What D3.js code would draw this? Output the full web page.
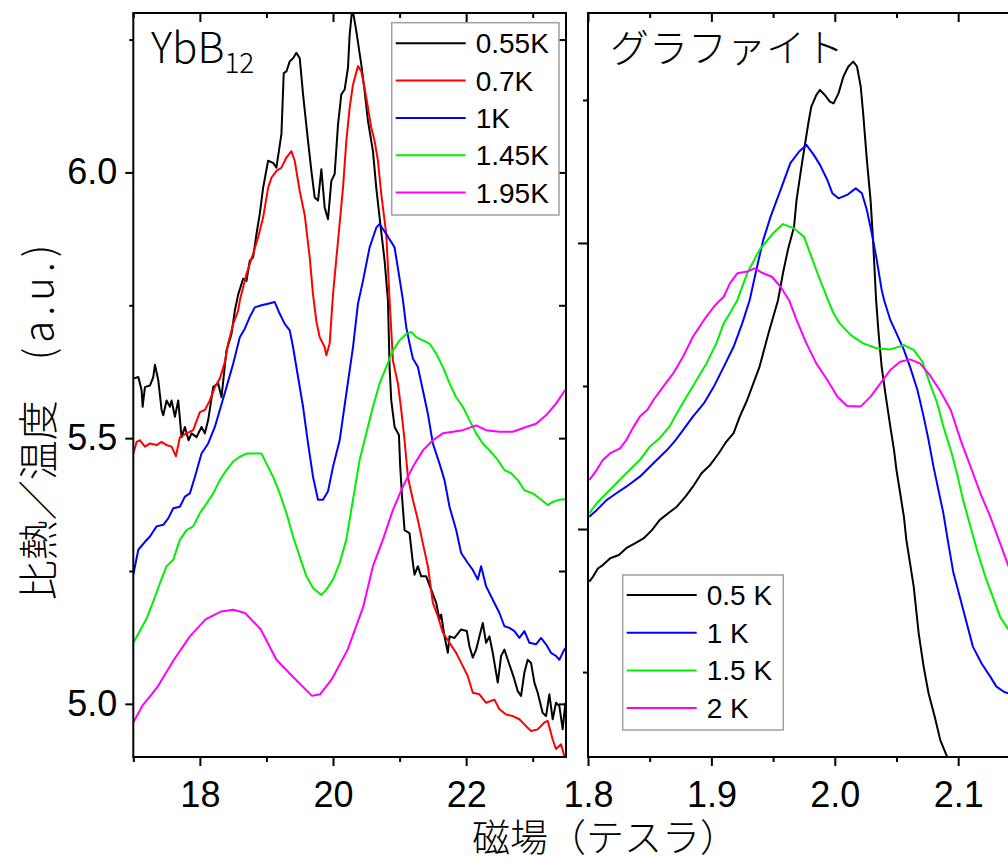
<!DOCTYPE html>
<html>
<head>
<meta charset="utf-8">
<script src="https://cdn.jsdelivr.net/npm/d3@7"></script>
<style>
  body { margin: 0; background: #fff; }
  svg text { font-family: "Liberation Sans", Arial, sans-serif; fill: #000; }
  svg text.jp { font-family: "Noto Sans CJK JP", sans-serif; font-weight: 300; }
</style>
</head>
<body>
<svg id="chart" width="1008" height="858"></svg>
<script>
"use strict";

// YbB12 panel, field (T) vs C/T (a.u.)
const yb055 = [[17.00,5.612],[17.075,5.615],[17.125,5.59],[17.14,5.559],[17.175,5.596],[17.25,5.599],[17.30,5.615],[17.325,5.638],[17.375,5.609],[17.425,5.553],[17.45,5.543],[17.50,5.571],[17.55,5.559],[17.575,5.571],[17.625,5.54],[17.675,5.571],[17.725,5.502],[17.775,5.521],[17.83,5.496],[17.875,5.509],[17.95,5.502],[18.025,5.521],[18.075,5.509],[18.125,5.534],[18.20,5.596],[18.275,5.603],[18.325,5.577],[18.40,5.665],[18.475,5.696],[18.525,5.74],[18.575,5.77],[18.65,5.80],[18.70,5.796],[18.75,5.834],[18.80,5.84],[18.85,5.884],[18.90,5.922],[18.95,5.971],[19.025,6.022],[19.10,6.018],[19.15,6.009],[19.225,6.072],[19.26,6.187],[19.30,6.19],[19.35,6.209],[19.40,6.215],[19.45,6.225],[19.50,6.215],[19.55,6.147],[19.625,6.059],[19.675,6.003],[19.725,5.953],[19.775,5.947],[19.825,6.006],[19.875,5.934],[19.925,5.912],[19.975,5.984],[20.025,5.997],[20.075,6.09],[20.125,6.147],[20.175,6.156],[20.225,6.197],[20.25,6.259],[20.29,6.31],[20.35,6.266],[20.425,6.203],[20.475,6.153],[20.525,6.097],[20.60,6.04],[20.65,5.971],[20.70,5.915],[20.775,5.834],[20.825,5.759],[20.85,5.634],[20.875,5.571],[20.925,5.521],[20.99,5.506],[21.01,5.446],[21.04,5.384],[21.075,5.327],[21.15,5.321],[21.20,5.265],[21.225,5.243],[21.275,5.259],[21.325,5.24],[21.40,5.24],[21.475,5.215],[21.55,5.19],[21.60,5.159],[21.625,5.168],[21.675,5.127],[21.725,5.096],[21.75,5.127],[21.825,5.124],[21.925,5.14],[22.01,5.137],[22.05,5.108],[22.10,5.087],[22.15,5.102],[22.20,5.127],[22.25,5.152],[22.30,5.115],[22.35,5.127],[22.40,5.096],[22.475,5.04],[22.525,5.09],[22.575,5.102],[22.625,5.083],[22.675,5.065],[22.725,5.046],[22.775,5.024],[22.825,5.015],[22.875,5.059],[22.925,5.083],[22.975,5.077],[23.025,5.04],[23.075,5.021],[23.15,4.983],[23.20,4.977],[23.25,5.018],[23.30,4.971],[23.35,5.002],[23.40,4.996],[23.45,4.952],[23.49,5.002]];
const yb07 = [[17.00,5.471],[17.05,5.493],[17.10,5.496],[17.175,5.484],[17.25,5.49],[17.35,5.487],[17.425,5.493],[17.50,5.487],[17.575,5.484],[17.64,5.466],[17.70,5.502],[17.80,5.509],[17.90,5.515],[18.00,5.549],[18.075,5.553],[18.15,5.571],[18.225,5.596],[18.30,5.612],[18.375,5.643],[18.425,5.678],[18.50,5.715],[18.575,5.74],[18.60,5.759],[18.70,5.809],[18.80,5.847],[18.875,5.878],[18.95,5.915],[19.025,5.971],[19.075,5.99],[19.15,6.003],[19.225,6.009],[19.30,6.028],[19.375,6.04],[19.425,6.022],[19.50,5.965],[19.575,5.92],[19.65,5.84],[19.70,5.77],[19.75,5.72],[19.80,5.69],[19.875,5.671],[19.90,5.656],[19.95,5.678],[20.00,5.771],[20.075,5.871],[20.15,5.971],[20.20,6.059],[20.25,6.122],[20.30,6.165],[20.375,6.20],[20.425,6.19],[20.475,6.159],[20.525,6.122],[20.575,6.084],[20.625,6.059],[20.675,6.022],[20.725,5.959],[20.80,5.884],[20.85,5.76],[20.90,5.646],[20.975,5.603],[21.025,5.553],[21.075,5.496],[21.125,5.427],[21.20,5.384],[21.275,5.346],[21.35,5.302],[21.425,5.259],[21.50,5.19],[21.575,5.165],[21.65,5.134],[21.75,5.115],[21.85,5.096],[21.95,5.071],[22.025,5.052],[22.10,5.021],[22.20,5.018],[22.30,5.002],[22.425,5.008],[22.50,4.99],[22.60,4.98],[22.70,4.977],[22.80,4.971],[22.90,4.958],[22.975,4.949],[23.075,4.952],[23.175,4.965],[23.225,4.968],[23.30,4.933],[23.35,4.915],[23.425,4.924],[23.475,4.902]];
const yb1 = [[17.0,5.243],[17.075,5.29],[17.175,5.305],[17.25,5.315],[17.35,5.334],[17.45,5.337],[17.525,5.349],[17.60,5.368],[17.70,5.371],[17.775,5.39],[17.85,5.396],[17.925,5.427],[18.025,5.471],[18.125,5.49],[18.225,5.521],[18.30,5.553],[18.40,5.596],[18.50,5.64],[18.60,5.69],[18.675,5.706],[18.75,5.728],[18.825,5.746],[18.925,5.75],[19.025,5.753],[19.125,5.756],[19.20,5.734],[19.275,5.715],[19.35,5.703],[19.40,5.671],[19.475,5.615],[19.55,5.559],[19.625,5.49],[19.70,5.427],[19.775,5.384],[19.85,5.384],[19.925,5.40],[20.0,5.446],[20.10,5.496],[20.20,5.584],[20.30,5.671],[20.375,5.753],[20.45,5.796],[20.55,5.859],[20.65,5.896],[20.70,5.903],[20.80,5.884],[20.925,5.859],[21.0,5.80],[21.05,5.76],[21.10,5.709],[21.15,5.678],[21.20,5.65],[21.275,5.634],[21.35,5.59],[21.425,5.546],[21.50,5.49],[21.60,5.452],[21.675,5.421],[21.75,5.371],[21.85,5.327],[21.925,5.284],[22.025,5.265],[22.10,5.252],[22.175,5.234],[22.225,5.259],[22.30,5.221],[22.40,5.196],[22.50,5.171],[22.575,5.146],[22.65,5.143],[22.725,5.137],[22.80,5.124],[22.875,5.137],[22.95,5.115],[23.05,5.112],[23.125,5.124],[23.20,5.112],[23.275,5.096],[23.35,5.09],[23.40,5.083],[23.45,5.096],[23.49,5.105]];
const yb145 = [[17.0,5.115],[17.195,5.159],[17.31,5.196],[17.40,5.227],[17.50,5.259],[17.60,5.271],[17.70,5.309],[17.80,5.327],[17.90,5.334],[18.0,5.359],[18.10,5.377],[18.20,5.396],[18.30,5.421],[18.40,5.44],[18.50,5.456],[18.60,5.465],[18.70,5.471],[18.80,5.471],[18.925,5.471],[19.0,5.452],[19.10,5.427],[19.20,5.396],[19.30,5.359],[19.40,5.315],[19.50,5.277],[19.60,5.24],[19.70,5.218],[19.825,5.205],[19.90,5.215],[20.0,5.234],[20.10,5.265],[20.20,5.309],[20.30,5.384],[20.40,5.459],[20.50,5.509],[20.60,5.559],[20.70,5.603],[20.80,5.634],[20.90,5.665],[21.0,5.684],[21.10,5.696],[21.175,5.70],[21.25,5.69],[21.35,5.684],[21.45,5.678],[21.55,5.659],[21.65,5.634],[21.75,5.603],[21.85,5.577],[21.95,5.559],[22.05,5.534],[22.15,5.509],[22.25,5.49],[22.35,5.477],[22.475,5.459],[22.575,5.44],[22.675,5.434],[22.775,5.421],[22.875,5.402],[23.0,5.396],[23.10,5.387],[23.225,5.374],[23.30,5.38],[23.40,5.384],[23.49,5.385]];
const yb195 = [[17.0,4.965],[17.135,4.996],[17.37,5.033],[17.61,5.083],[17.85,5.127],[18.085,5.159],[18.32,5.174],[18.50,5.177],[18.68,5.171],[18.915,5.14],[19.15,5.083],[19.39,5.052],[19.685,5.015],[19.805,5.018],[19.98,5.046],[20.22,5.102],[20.455,5.183],[20.60,5.259],[20.75,5.309],[20.90,5.365],[21.05,5.409],[21.20,5.446],[21.35,5.477],[21.50,5.496],[21.65,5.509],[21.80,5.512],[21.95,5.515],[22.15,5.524],[22.30,5.515],[22.50,5.512],[22.70,5.512],[22.90,5.521],[23.05,5.527],[23.20,5.543],[23.35,5.565],[23.49,5.591]];

// graphite panel, field (T) vs C/T (a.u., no scale shown)
const gr05 = [[1.801,0.816],[1.804,0.833],[1.808,0.862],[1.812,0.874],[1.818,0.898],[1.825,0.909],[1.831,0.933],[1.838,0.95],[1.845,0.967],[1.852,0.997],[1.858,1.031],[1.865,1.055],[1.872,1.078],[1.879,1.113],[1.885,1.148],[1.892,1.195],[1.899,1.224],[1.906,1.265],[1.912,1.305],[1.918,1.335],[1.923,1.393],[1.929,1.451],[1.934,1.509],[1.939,1.567],[1.946,1.68],[1.954,1.80],[1.958,1.894],[1.962,1.976],[1.967,2.057],[1.969,2.15],[1.973,2.267],[1.976,2.349],[1.979,2.43],[1.981,2.477],[1.985,2.517],[1.988,2.535],[1.992,2.517],[1.996,2.494],[1.999,2.488],[2.003,2.523],[2.007,2.582],[2.011,2.617],[2.015,2.634],[2.018,2.617],[2.021,2.547],[2.023,2.453],[2.026,2.29],[2.029,2.15],[2.031,2.01],[2.0335,1.80],[2.0355,1.684],[2.038,1.567],[2.041,1.474],[2.045,1.358],[2.048,1.276],[2.050,1.206],[2.053,1.125],[2.056,1.043],[2.058,0.962],[2.061,0.880],[2.064,0.798],[2.068,0.635],[2.072,0.519],[2.076,0.426],[2.081,0.344],[2.0855,0.262],[2.091,0.204]];
const gr1 = [[1.801,1.043],[1.807,1.066],[1.815,1.101],[1.823,1.125],[1.831,1.148],[1.842,1.183],[1.853,1.23],[1.864,1.276],[1.871,1.311],[1.877,1.346],[1.885,1.393],[1.894,1.44],[1.902,1.498],[1.910,1.567],[1.918,1.637],[1.925,1.719],[1.931,1.80],[1.937,1.917],[1.942,2.01],[1.948,2.092],[1.956,2.185],[1.964,2.279],[1.971,2.319],[1.977,2.343],[1.983,2.308],[1.988,2.273],[1.994,2.22],[1.998,2.174],[2.003,2.156],[2.010,2.168],[2.017,2.191],[2.022,2.174],[2.026,2.115],[2.030,2.034],[2.034,1.941],[2.038,1.836],[2.040,1.80],[2.045,1.731],[2.050,1.684],[2.056,1.626],[2.061,1.567],[2.067,1.486],[2.072,1.393],[2.076,1.311],[2.080,1.218],[2.084,1.136],[2.088,1.055],[2.092,0.95],[2.096,0.85],[2.102,0.752],[2.107,0.670],[2.112,0.588],[2.119,0.530],[2.126,0.484],[2.131,0.449],[2.137,0.431],[2.141,0.425]];
const gr15 = [[1.801,1.055],[1.807,1.09],[1.815,1.125],[1.823,1.16],[1.831,1.195],[1.842,1.241],[1.850,1.288],[1.858,1.317],[1.866,1.358],[1.872,1.405],[1.880,1.463],[1.888,1.521],[1.896,1.579],[1.904,1.649],[1.910,1.719],[1.915,1.754],[1.921,1.80],[1.929,1.894],[1.939,1.976],[1.950,2.034],[1.958,2.066],[1.967,2.051],[1.975,2.022],[1.980,1.964],[1.987,1.882],[1.994,1.806],[1.999,1.754],[2.004,1.719],[2.013,1.678],[2.023,1.649],[2.034,1.632],[2.045,1.628],[2.056,1.643],[2.064,1.626],[2.071,1.585],[2.077,1.509],[2.083,1.44],[2.088,1.358],[2.094,1.276],[2.099,1.195],[2.104,1.101],[2.110,1.008],[2.116,0.915],[2.122,0.833],[2.129,0.752],[2.134,0.693],[2.141,0.647]];
const gr2 = [[1.801,1.171],[1.807,1.206],[1.812,1.241],[1.818,1.265],[1.826,1.282],[1.831,1.311],[1.837,1.358],[1.842,1.393],[1.848,1.416],[1.853,1.451],[1.861,1.498],[1.869,1.544],[1.877,1.602],[1.885,1.672],[1.894,1.731],[1.902,1.777],[1.907,1.80],[1.910,1.812],[1.915,1.859],[1.921,1.894],[1.929,1.90],[1.935,1.911],[1.942,1.894],[1.949,1.882],[1.956,1.847],[1.963,1.80],[1.969,1.731],[1.977,1.649],[1.985,1.579],[1.994,1.521],[2.002,1.463],[2.010,1.43],[2.021,1.428],[2.029,1.463],[2.037,1.509],[2.045,1.556],[2.053,1.585],[2.061,1.593],[2.069,1.579],[2.077,1.538],[2.085,1.486],[2.094,1.416],[2.102,1.311],[2.110,1.218],[2.118,1.125],[2.126,1.043],[2.134,0.95],[2.141,0.868]];

const ybSeries = [yb055, yb07, yb1, yb145, yb195];
const ybLabels = ["0.55K", "0.7K", "1K", "1.45K", "1.95K"];
const ybColors = ["#000000", "#ff0000", "#0000ff", "#00f000", "#ff00ff"];
const grSeries = [gr05, gr1, gr15, gr2];
const grLabels = ["0.5 K", "1 K", "1.5 K", "2 K"];
const grColors = ["#000000", "#0000ff", "#00f000", "#ff00ff"];

const ybXTicks = [18, 20, 22];
const ybXMinor = [17, 19, 21, 23];
const ybYTicks = [5.0, 5.5, 6.0];
const ybYMinor = [5.25, 5.75, 6.25];
const grXTicks = [1.8, 1.9, 2.0, 2.1];
const grXMinor = [1.85, 1.95, 2.05];
const grYTicks = [1, 2];
const grYMinor = [0.5, 1.5, 2.5];

const svg = d3.select("#chart");
const plotTop = 13, plotBottom = 757;

const xL = d3.scaleLinear().domain([17, 23.5]).range([133.3, 566]);
const yL = d3.scaleLinear().domain([4.9, 6.3]).range([plotBottom, plotTop]);
const xR = d3.scaleLinear().domain([1.8, 2.142]).range([588, 1010]);
const yR = d3.scaleLinear().domain([0.203, 2.804]).range([plotBottom, plotTop]);

const defs = svg.append("defs");
defs.append("clipPath").attr("id", "clipL").append("rect")
  .attr("x", 133.3).attr("y", plotTop).attr("width", 566 - 133.3).attr("height", plotBottom - plotTop);
defs.append("clipPath").attr("id", "clipR").append("rect")
  .attr("x", 588).attr("y", plotTop).attr("width", 1010 - 588).attr("height", plotBottom - plotTop);

function styleAxis(g, fontSize) {
  g.select(".domain").remove();
  g.selectAll("line").attr("stroke", "#000").attr("stroke-width", 2);
  g.selectAll("text").style("font-size", fontSize + "px");
}

function drawPanel(x, y, opt) {
  const x0 = x.range()[0], x1 = x.range()[1];
  // bottom
  svg.append("g").attr("transform", `translate(0,${plotBottom})`)
    .call(d3.axisBottom(x).tickValues(opt.xTicks).tickSize(9).tickPadding(15).tickFormat(opt.xFmt))
    .call(styleAxis, 36);
  svg.append("g").attr("transform", `translate(0,${plotBottom})`)
    .call(d3.axisBottom(x).tickValues(opt.xMinor).tickSize(5).tickFormat(""))
    .call(styleAxis, 36);
  // top, inward
  svg.append("g").attr("transform", `translate(0,${plotTop})`)
    .call(d3.axisTop(x).tickValues(opt.xTicks).tickSize(-9).tickFormat(""))
    .call(styleAxis, 36);
  svg.append("g").attr("transform", `translate(0,${plotTop})`)
    .call(d3.axisTop(x).tickValues(opt.xMinor).tickSize(-5).tickFormat(""))
    .call(styleAxis, 36);
  // left
  svg.append("g").attr("transform", `translate(${x0},0)`)
    .call(d3.axisLeft(y).tickValues(opt.yTicks).tickSize(opt.yTick).tickPadding(8)
      .tickFormat(opt.yLabels ? d3.format(".1f") : ""))
    .call(styleAxis, 36);
  svg.append("g").attr("transform", `translate(${x0},0)`)
    .call(d3.axisLeft(y).tickValues(opt.yMinor).tickSize(opt.yTick / 2).tickFormat(""))
    .call(styleAxis, 36);
  // right, inward
  if (opt.rightTicks) {
    svg.append("g").attr("transform", `translate(${x1},0)`)
      .call(d3.axisRight(y).tickValues(opt.yTicks.concat(opt.yMinor)).tickSize(-7).tickFormat(""))
      .call(styleAxis, 36);
  }

  const line = d3.line().x((d) => x(d[0])).y((d) => y(d[1]));
  svg.append("g").attr("clip-path", `url(#${opt.clip})`)
    .selectAll("path")
    .data(opt.series)
    .enter()
    .append("path")
    .attr("d", line)
    .attr("fill", "none")
    .attr("stroke", (d, i) => opt.colors[i])
    .attr("stroke-width", 2)
    .attr("stroke-linejoin", "round");

  svg.append("rect")
    .attr("x", x0).attr("y", plotTop)
    .attr("width", x1 - x0).attr("height", plotBottom - plotTop)
    .attr("fill", "none").attr("stroke", "#000").attr("stroke-width", 2);
}

drawPanel(xL, yL, {
  xTicks: ybXTicks, xMinor: ybXMinor, xFmt: d3.format("d"),
  yTicks: ybYTicks, yMinor: ybYMinor, yTick: 8, yLabels: true, rightTicks: true,
  series: ybSeries, colors: ybColors, clip: "clipL"
});
drawPanel(xR, yR, {
  xTicks: grXTicks, xMinor: grXMinor, xFmt: d3.format(".1f"),
  yTicks: grYTicks, yMinor: grYMinor, yTick: 10, yLabels: false, rightTicks: false,
  series: grSeries, colors: grColors, clip: "clipR"
});

function drawLegend(box, labels, colors) {
  const g = svg.append("g");
  g.append("rect")
    .attr("x", box.x).attr("y", box.y).attr("width", box.w).attr("height", box.h)
    .attr("fill", "#fff").attr("stroke", "#a0a0a0").attr("stroke-width", 1.5);
  labels.forEach((lab, i) => {
    const ry = box.row0 + i * box.step;
    g.append("line")
      .attr("x1", box.x + 4).attr("x2", box.x + 74)
      .attr("y1", ry).attr("y2", ry)
      .attr("stroke", colors[i]).attr("stroke-width", 2);
    g.append("text")
      .attr("x", box.x + 84).attr("y", ry + 10)
      .style("font-size", "28px")
      .text(lab);
  });
}

drawLegend({ x: 391.7, y: 22.7, w: 167.3, h: 192.3, row0: 43.3, step: 37.3 }, ybLabels, ybColors);
drawLegend({ x: 622.7, y: 575, w: 160.6, h: 155, row0: 595, step: 37.7 }, grLabels, grColors);

// panel titles
const ybTitle = svg.append("text").attr("class", "jp")
  .attr("x", 151).attr("y", 63).style("font-size", "42px");
ybTitle.append("tspan").text("YbB");
ybTitle.append("tspan").attr("dy", 10).style("font-size", "28px").text("12");

svg.append("text").attr("class", "jp")
  .attr("x", 610).attr("y", 62).style("font-size", "39px")
  .text("グラファイト");

// axis titles
const yTitle = svg.append("text").attr("class", "jp")
  .attr("transform", "translate(53,420) rotate(-90)")
  .attr("text-anchor", "middle")
  .style("font-size", "40px");
yTitle.append("tspan").text("比熱／温度　");
yTitle.append("tspan").style("letter-spacing", "5px").text("(a.u.)");

svg.append("text").attr("class", "jp")
  .attr("x", 472).attr("y", 851)
  .style("font-size", "38px")
  .text("磁場（テスラ）");
</script>
</body>
</html>
